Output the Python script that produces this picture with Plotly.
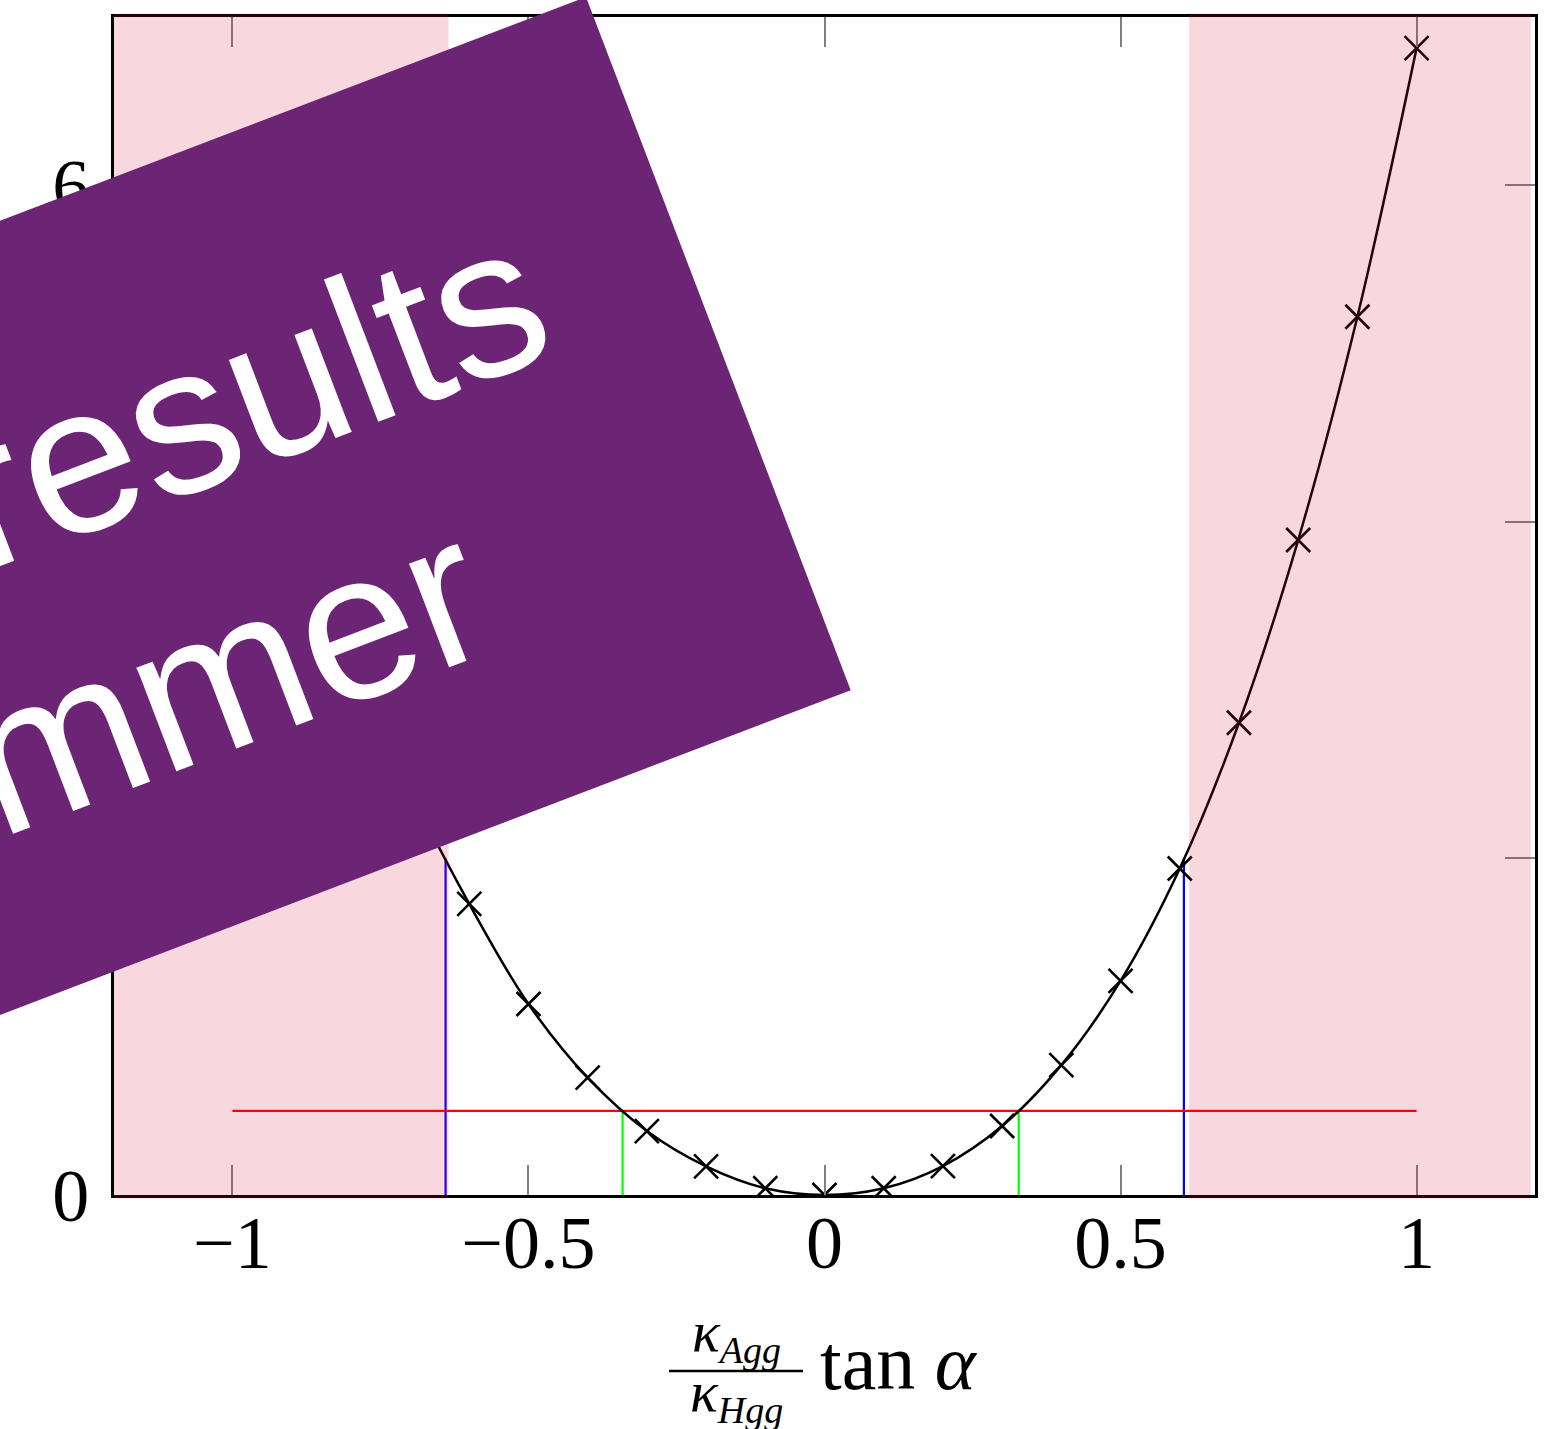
import math
import plotly.graph_objects as go

# Scan points: ratio versus (kappa_Agg / kappa_Hgg) tan(alpha)
x_scan = [-1.0, -0.9, -0.8, -0.7, -0.6, -0.5, -0.4, -0.3, -0.2, -0.1, 0.0,
          0.1, 0.2, 0.3, 0.4, 0.5, 0.6, 0.7, 0.8, 0.9, 1.0]
y_scan = [5.75, 4.45, 3.35, 2.42, 1.73, 1.135, 0.697, 0.38, 0.17, 0.04, 0.0,
          0.04, 0.172, 0.41, 0.772, 1.272, 1.94, 2.806, 3.892, 5.219, 6.815]

# Reference level and the points where the scan crosses it / the outer level
level_x = [-1.0, 1.0]
level_y = [0.5, 0.5]
inner_bounds = [-0.341, 0.328]
outer_bounds = [-0.64, 0.607]
outer_level = 2.0

# Excluded regions (shaded)
excluded = [(-1.21, -0.635), (0.616, 1.193)]

x_ticks = [-1, -0.5, 0, 0.5, 1]
x_tick_text = ["\u22121", "\u22120.5", "0", "0.5", "1"]
y_ticks = [0, 2, 4, 6]
y_tick_text = ["0", "2", "4", "6"]

banner_lines = ["results", "mmer"]

# ---------------------------------------------------------------- layout
W, H = 1558, 1429
M = dict(l=114, r=23, t=17, b=234)
PW = W - M["l"] - M["r"]
PH = H - M["t"] - M["b"]


def to_paper(px, py):
    """Pixel position on the page -> paper coordinates."""
    return (px - M["l"]) / PW, (H - M["b"] - py) / PH


SERIF = "Liberation Serif"
SANS = "Liberation Sans"

fig = go.Figure()

# vertical markers at the crossings of the 0.5 level
for xb in inner_bounds:
    fig.add_trace(go.Scatter(x=[xb, xb], y=[0, level_y[0]], mode="lines",
                             line=dict(color="#00ff00", width=2.2),
                             hoverinfo="skip"))
# vertical markers at the crossings of the outer level
for xb in outer_bounds:
    fig.add_trace(go.Scatter(x=[xb, xb], y=[0, outer_level], mode="lines",
                             line=dict(color="#0000ff", width=2.2),
                             hoverinfo="skip"))
# horizontal reference level
fig.add_trace(go.Scatter(x=level_x, y=level_y, mode="lines",
                         line=dict(color="#ff0000", width=2.2),
                         hoverinfo="skip"))
# scan curve with its points
fig.add_trace(go.Scatter(x=x_scan, y=y_scan, mode="lines+markers",
                         line=dict(color="black", width=2.5, shape="spline"),
                         marker=dict(symbol="x-thin", size=24, color="black",
                                     line=dict(color="black", width=2.6))))

shapes = []
# translucent shading of the excluded regions, on top of the data
for x0, x1 in excluded:
    shapes.append(dict(type="rect", xref="x", yref="paper",
                       x0=x0, x1=x1, y0=-0.003, y1=1.003,
                       fillcolor="rgba(220,20,60,0.17)", line=dict(width=0),
                       layer="above"))

# rotated banner across the upper-left corner
ang = math.radians(20.9)
ux, uy = math.cos(ang), -math.sin(ang)
nx, ny = math.sin(ang), math.cos(ang)
A = (586.0, -3.0)
band_w, band_len = 742.0, 2600.0
B = (A[0] + band_w * nx, A[1] + band_w * ny)
C = (B[0] - band_len * ux, B[1] - band_len * uy)
D = (A[0] - band_len * ux, A[1] - band_len * uy)
pts = [to_paper(*p) for p in (A, B, C, D)]
path = "M " + " L ".join(f"{px:.5f},{py:.5f}" for px, py in pts) + " Z"
shapes.append(dict(type="path", xref="paper", yref="paper", path=path,
                   fillcolor="#6c2574", line=dict(width=0), layer="above"))

# fraction bar of the x-axis title
fb0 = to_paper(669, 1371)
fb1 = to_paper(803, 1371)
shapes.append(dict(type="line", xref="paper", yref="paper",
                   x0=fb0[0], x1=fb1[0], y0=fb0[1], y1=fb1[1],
                   line=dict(color="black", width=2.5)))

annotations = []


def band_point(s, t):
    return to_paper(A[0] + s * ux + t * nx, A[1] + s * uy + t * ny)


for text, (s, t) in zip(banner_lines, [(-459, 250), (-580, 505)]):
    bx, by = band_point(s, t)
    annotations.append(dict(text=text, x=bx, y=by, xref="paper", yref="paper",
                            xanchor="center", yanchor="middle",
                            showarrow=False, textangle=-20.9,
                            font=dict(family=SANS, size=210, color="white")))

# x-axis title:  kappa_Agg / kappa_Hgg  tan(alpha)
nxp, nyp = to_paper(736, 1335)
annotations.append(dict(
    text="<i>\u03ba</i><sub><span style='font-size:38px'><i>Agg</i></span></sub>",
    x=nxp, y=nyp, xref="paper", yref="paper", xanchor="center",
    yanchor="middle", showarrow=False,
    font=dict(family=SERIF, size=58, color="black")))
dxp, dyp = to_paper(736, 1395)
annotations.append(dict(
    text="<i>\u03ba</i><sub><span style='font-size:38px'><i>Hgg</i></span></sub>",
    x=dxp, y=dyp, xref="paper", yref="paper", xanchor="center",
    yanchor="middle", showarrow=False,
    font=dict(family=SERIF, size=58, color="black")))
txp, typ = to_paper(818, 1362)
annotations.append(dict(
    text="tan <i>\u03b1</i>", x=txp, y=typ, xref="paper", yref="paper",
    xanchor="left", yanchor="middle", showarrow=False,
    font=dict(family=SERIF, size=78, color="black")))

axis_common = dict(showline=True, linecolor="black", linewidth=3,
                   mirror="allticks", ticks="inside", ticklen=30,
                   tickcolor="#808080", tickwidth=1.5, showgrid=False,
                   zeroline=False,
                   tickfont=dict(family=SERIF, size=74, color="black"))

fig.update_layout(
    width=W, height=H, margin=M,
    paper_bgcolor="white", plot_bgcolor="white",
    showlegend=False,
    xaxis=dict(range=[-1.2, 1.2], tickvals=x_ticks, ticktext=x_tick_text,
               ticklabelstandoff=-19, **axis_common),
    yaxis=dict(range=[0, 7], tickvals=y_ticks, ticktext=y_tick_text,
               ticklabelstandoff=7, **axis_common),
    shapes=shapes,
    annotations=annotations,
)

fig.write_html("out.html")
